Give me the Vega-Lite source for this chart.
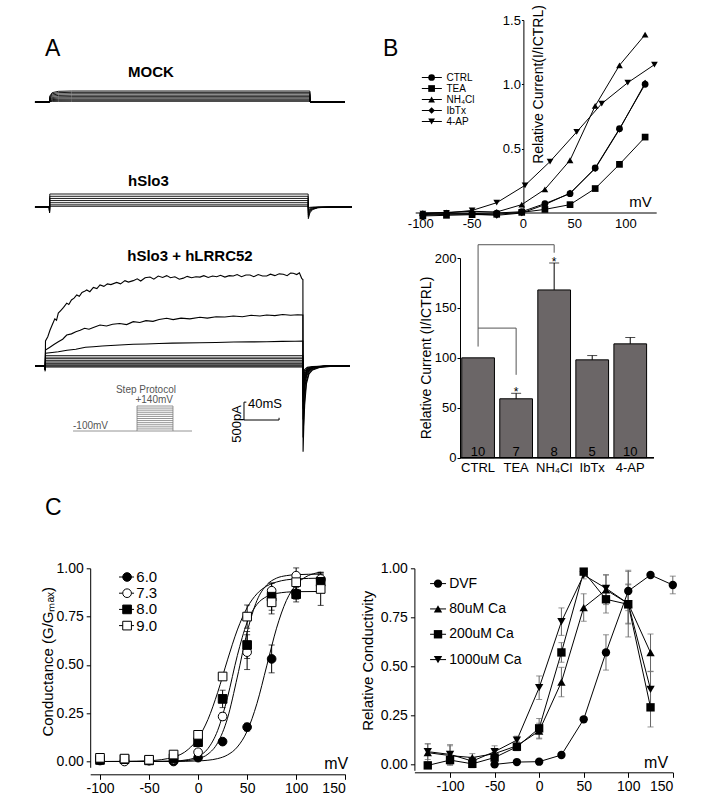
{
"$schema":"https://vega.github.io/schema/vega-lite/v6.json",
"background":"white",
"padding":0,
"config":{
 "font":"Liberation Sans",
 "view":{"stroke":null},
 "axis":{"domainColor":"black","tickColor":"black","labelColor":"black","titleColor":"black","grid":false,"titleFontWeight":"normal","labelFont":"Liberation Sans","titleFont":"Liberation Sans"},
 "title":{"color":"black","font":"Liberation Sans"},
 "text":{"color":"black","font":"Liberation Sans"}
},
"datasets":{
 "mock":[
  {"r":1,"t":-16.6,"i":0},{"r":1,"t":0,"i":0},{"r":1,"t":0.4,"i":169.4},{"r":1,"t":3,"i":261.8},{"r":1,"t":10,"i":298.8},{"r":1,"t":25,"i":308},{"r":1,"t":297,"i":308},{"r":1,"t":297.3,"i":0},{"r":1,"t":337,"i":0},
  {"r":2,"t":-16.6,"i":0},{"r":2,"t":0,"i":0},{"r":2,"t":0.4,"i":148.5},{"r":2,"t":3,"i":229.5},{"r":2,"t":10,"i":261.9},{"r":2,"t":25,"i":270},{"r":2,"t":297,"i":270},{"r":2,"t":297.3,"i":0},{"r":2,"t":337,"i":0},
  {"r":3,"t":-16.6,"i":0},{"r":3,"t":0,"i":0},{"r":3,"t":0.4,"i":126.5},{"r":3,"t":3,"i":195.5},{"r":3,"t":10,"i":223.1},{"r":3,"t":25,"i":230},{"r":3,"t":297,"i":230},{"r":3,"t":297.3,"i":0},{"r":3,"t":337,"i":0},
  {"r":4,"t":-16.6,"i":0},{"r":4,"t":0,"i":0},{"r":4,"t":0.4,"i":104.5},{"r":4,"t":3,"i":161.5},{"r":4,"t":10,"i":184.3},{"r":4,"t":25,"i":190},{"r":4,"t":297,"i":190},{"r":4,"t":297.3,"i":0},{"r":4,"t":337,"i":0},
  {"r":5,"t":-16.6,"i":0},{"r":5,"t":0,"i":0},{"r":5,"t":0.4,"i":82.5},{"r":5,"t":3,"i":127.5},{"r":5,"t":10,"i":145.5},{"r":5,"t":25,"i":150},{"r":5,"t":297,"i":150},{"r":5,"t":297.3,"i":0},{"r":5,"t":337,"i":0},
  {"r":6,"t":-16.6,"i":0},{"r":6,"t":0,"i":0},{"r":6,"t":0.4,"i":63.3},{"r":6,"t":3,"i":97.8},{"r":6,"t":10,"i":111.6},{"r":6,"t":25,"i":115},{"r":6,"t":297,"i":115},{"r":6,"t":297.3,"i":0},{"r":6,"t":337,"i":0},
  {"r":7,"t":-16.6,"i":0},{"r":7,"t":0,"i":0},{"r":7,"t":0.4,"i":44},{"r":7,"t":3,"i":68},{"r":7,"t":10,"i":77.6},{"r":7,"t":25,"i":80},{"r":7,"t":297,"i":80},{"r":7,"t":297.3,"i":0},{"r":7,"t":337,"i":0},
  {"r":8,"t":-16.6,"i":0},{"r":8,"t":0,"i":0},{"r":8,"t":0.4,"i":27.5},{"r":8,"t":3,"i":42.5},{"r":8,"t":10,"i":48.5},{"r":8,"t":25,"i":50},{"r":8,"t":297,"i":50},{"r":8,"t":297.3,"i":0},{"r":8,"t":337,"i":0},
  {"r":9,"t":-16.6,"i":0},{"r":9,"t":0,"i":0},{"r":9,"t":0.4,"i":11},{"r":9,"t":3,"i":17},{"r":9,"t":10,"i":19.4},{"r":9,"t":25,"i":20},{"r":9,"t":297,"i":20},{"r":9,"t":297.3,"i":0},{"r":9,"t":337,"i":0}
 ],
 "hslo":[
  {"r":1,"t":-16.6,"i":0},{"r":1,"t":-0.3,"i":0},{"r":1,"t":0,"i":-150},{"r":1,"t":0.3,"i":364},{"r":1,"t":295,"i":364},{"r":1,"t":295.2,"i":-327.6},{"r":1,"t":297,"i":-163.8},{"r":1,"t":300,"i":-72.8},{"r":1,"t":306,"i":-21.8},{"r":1,"t":320,"i":0},{"r":1,"t":345,"i":0},
  {"r":2,"t":-16.6,"i":0},{"r":2,"t":-0.3,"i":0},{"r":2,"t":0,"i":-150},{"r":2,"t":0.3,"i":300},{"r":2,"t":295,"i":300},{"r":2,"t":295.2,"i":-270},{"r":2,"t":297,"i":-135},{"r":2,"t":300,"i":-60},{"r":2,"t":306,"i":-18},{"r":2,"t":320,"i":0},{"r":2,"t":345,"i":0},
  {"r":3,"t":-16.6,"i":0},{"r":3,"t":-0.3,"i":0},{"r":3,"t":0,"i":-150},{"r":3,"t":0.3,"i":240},{"r":3,"t":295,"i":240},{"r":3,"t":295.2,"i":-216},{"r":3,"t":297,"i":-108},{"r":3,"t":300,"i":-48},{"r":3,"t":306,"i":-14.4},{"r":3,"t":320,"i":0},{"r":3,"t":345,"i":0},
  {"r":4,"t":-16.6,"i":0},{"r":4,"t":-0.3,"i":0},{"r":4,"t":0,"i":-150},{"r":4,"t":0.3,"i":180},{"r":4,"t":295,"i":180},{"r":4,"t":295.2,"i":-162},{"r":4,"t":297,"i":-81},{"r":4,"t":300,"i":-36},{"r":4,"t":306,"i":-10.8},{"r":4,"t":320,"i":0},{"r":4,"t":345,"i":0},
  {"r":5,"t":-16.6,"i":0},{"r":5,"t":-0.3,"i":0},{"r":5,"t":0,"i":-150},{"r":5,"t":0.3,"i":120},{"r":5,"t":295,"i":120},{"r":5,"t":295.2,"i":-108},{"r":5,"t":297,"i":-54},{"r":5,"t":300,"i":-24},{"r":5,"t":306,"i":-7.2},{"r":5,"t":320,"i":0},{"r":5,"t":345,"i":0},
  {"r":6,"t":-16.6,"i":0},{"r":6,"t":-0.3,"i":0},{"r":6,"t":0,"i":-150},{"r":6,"t":0.3,"i":60},{"r":6,"t":295,"i":60},{"r":6,"t":295.2,"i":-54},{"r":6,"t":297,"i":-27},{"r":6,"t":300,"i":-12},{"r":6,"t":306,"i":-3.6},{"r":6,"t":320,"i":0},{"r":6,"t":345,"i":0},
  {"r":7,"t":-16.6,"i":0},{"r":7,"t":-0.3,"i":0},{"r":7,"t":0,"i":-150},{"r":7,"t":0.3,"i":20},{"r":7,"t":295,"i":20},{"r":7,"t":295.2,"i":-18},{"r":7,"t":297,"i":-9},{"r":7,"t":300,"i":-4},{"r":7,"t":306,"i":-1.2},{"r":7,"t":320,"i":0},{"r":7,"t":345,"i":0}
 ],
 "lrrc":[
  {"r":1,"t":-16.6,"i":0},{"r":1,"t":-5.2,"i":0},{"r":1,"t":-5,"i":-150},{"r":1,"t":-4.6,"i":700},{"r":1,"t":-2,"i":820},{"r":1,"t":0.5,"i":1000},{"r":1,"t":3,"i":1150},{"r":1,"t":6,"i":1320},{"r":1,"t":8,"i":1280},{"r":1,"t":10,"i":1480},{"r":1,"t":13,"i":1560},{"r":1,"t":16,"i":1640},{"r":1,"t":19.6,"i":1760},{"r":1,"t":22,"i":1720},{"r":1,"t":25,"i":1850},{"r":1,"t":28,"i":1900},{"r":1,"t":31,"i":1990},{"r":1,"t":34,"i":1950},{"r":1,"t":37,"i":2060},{"r":1,"t":40,"i":2090},{"r":1,"t":42.4,"i":2130},{"r":1,"t":46,"i":2080},{"r":1,"t":50,"i":2200},{"r":1,"t":54,"i":2170},{"r":1,"t":57.6,"i":2270},{"r":1,"t":62,"i":2230},{"r":1,"t":66,"i":2300},{"r":1,"t":70,"i":2280},{"r":1,"t":76.6,"i":2340},{"r":1,"t":81,"i":2300},{"r":1,"t":86,"i":2390},{"r":1,"t":90,"i":2350},{"r":1,"t":95.5,"i":2390},{"r":1,"t":100,"i":2440},{"r":1,"t":104,"i":2380},{"r":1,"t":109,"i":2470},{"r":1,"t":114.6,"i":2490},{"r":1,"t":119,"i":2430},{"r":1,"t":124,"i":2520},{"r":1,"t":129,"i":2480},{"r":1,"t":133.6,"i":2530},{"r":1,"t":138,"i":2470},{"r":1,"t":143,"i":2500},{"r":1,"t":148,"i":2430},{"r":1,"t":152.6,"i":2460},{"r":1,"t":157,"i":2510},{"r":1,"t":162,"i":2470},{"r":1,"t":167,"i":2500},{"r":1,"t":171.6,"i":2490},{"r":1,"t":176,"i":2530},{"r":1,"t":181,"i":2480},{"r":1,"t":186,"i":2520},{"r":1,"t":190.7,"i":2500},{"r":1,"t":195,"i":2540},{"r":1,"t":200,"i":2490},{"r":1,"t":205,"i":2530},{"r":1,"t":209.6,"i":2520},{"r":1,"t":214,"i":2560},{"r":1,"t":219,"i":2500},{"r":1,"t":224,"i":2550},{"r":1,"t":228.7,"i":2550},{"r":1,"t":233,"i":2500},{"r":1,"t":238,"i":2560},{"r":1,"t":243,"i":2520},{"r":1,"t":247.7,"i":2520},{"r":1,"t":252,"i":2570},{"r":1,"t":257,"i":2530},{"r":1,"t":262,"i":2580},{"r":1,"t":266.6,"i":2570},{"r":1,"t":271,"i":2530},{"r":1,"t":275,"i":2600},{"r":1,"t":278,"i":2595},{"r":1,"t":282,"i":2560},{"r":1,"t":285,"i":2610},{"r":1,"t":287.6,"i":2455},{"r":1,"t":289,"i":2420},{"r":1,"t":289.2,"i":-2400},{"r":1,"t":290,"i":-1700},{"r":1,"t":291,"i":-1100},{"r":1,"t":293,"i":-500},{"r":1,"t":296,"i":-220},{"r":1,"t":300,"i":-110},{"r":1,"t":308,"i":-40},{"r":1,"t":320,"i":-10},{"r":1,"t":342.7,"i":0},
  {"r":2,"t":-16.6,"i":0},{"r":2,"t":-5.2,"i":0},{"r":2,"t":-5,"i":-120},{"r":2,"t":-4.6,"i":448},{"r":2,"t":0,"i":520},{"r":2,"t":5,"i":600},{"r":2,"t":10,"i":680},{"r":2,"t":15,"i":750},{"r":2,"t":19.6,"i":868},{"r":2,"t":25,"i":900},{"r":2,"t":30,"i":960},{"r":2,"t":35,"i":1000},{"r":2,"t":40,"i":1055},{"r":2,"t":45,"i":1030},{"r":2,"t":50,"i":1080},{"r":2,"t":57.6,"i":1148},{"r":2,"t":65,"i":1120},{"r":2,"t":72,"i":1170},{"r":2,"t":80,"i":1190},{"r":2,"t":88,"i":1160},{"r":2,"t":95.5,"i":1241},{"r":2,"t":103,"i":1220},{"r":2,"t":110,"i":1270},{"r":2,"t":118,"i":1250},{"r":2,"t":125,"i":1300},{"r":2,"t":133.6,"i":1335},{"r":2,"t":141,"i":1300},{"r":2,"t":150,"i":1340},{"r":2,"t":160,"i":1320},{"r":2,"t":171.6,"i":1363},{"r":2,"t":180,"i":1340},{"r":2,"t":190,"i":1380},{"r":2,"t":200,"i":1370},{"r":2,"t":209.6,"i":1400},{"r":2,"t":220,"i":1380},{"r":2,"t":230,"i":1420},{"r":2,"t":240,"i":1400},{"r":2,"t":247.7,"i":1428},{"r":2,"t":257,"i":1410},{"r":2,"t":266,"i":1440},{"r":2,"t":275,"i":1420},{"r":2,"t":283,"i":1435},{"r":2,"t":289,"i":1428},{"r":2,"t":289.2,"i":-2000},{"r":2,"t":290,"i":-1400},{"r":2,"t":291,"i":-900},{"r":2,"t":293,"i":-420},{"r":2,"t":296,"i":-180},{"r":2,"t":300,"i":-90},{"r":2,"t":308,"i":-30},{"r":2,"t":320,"i":-8},{"r":2,"t":342.7,"i":0},
  {"r":3,"t":-16.6,"i":0},{"r":3,"t":-5.2,"i":0},{"r":3,"t":-5,"i":-100},{"r":3,"t":-4.6,"i":355},{"r":3,"t":3,"i":380},{"r":3,"t":10,"i":401},{"r":3,"t":20,"i":440},{"r":3,"t":30,"i":470},{"r":3,"t":41,"i":523},{"r":3,"t":50,"i":540},{"r":3,"t":60,"i":560},{"r":3,"t":75,"i":580},{"r":3,"t":95.5,"i":607},{"r":3,"t":110,"i":615},{"r":3,"t":125,"i":630},{"r":3,"t":140,"i":640},{"r":3,"t":171.6,"i":653},{"r":3,"t":190,"i":660},{"r":3,"t":210,"i":670},{"r":3,"t":230,"i":675},{"r":3,"t":247.7,"i":681},{"r":3,"t":265,"i":690},{"r":3,"t":280,"i":695},{"r":3,"t":289,"i":700},{"r":3,"t":289.2,"i":-1500},{"r":3,"t":290,"i":-1000},{"r":3,"t":291,"i":-650},{"r":3,"t":293,"i":-300},{"r":3,"t":296,"i":-130},{"r":3,"t":300,"i":-60},{"r":3,"t":308,"i":-20},{"r":3,"t":320,"i":-5},{"r":3,"t":342.7,"i":0},
  {"r":4,"t":-16.6,"i":0},{"r":4,"t":-5.2,"i":0},{"r":4,"t":-5,"i":-100},{"r":4,"t":-4.6,"i":285},{"r":4,"t":289,"i":285},{"r":4,"t":289.2,"i":-1200},{"r":4,"t":291,"i":-480},{"r":4,"t":294,"i":-180},{"r":4,"t":300,"i":-60},{"r":4,"t":315,"i":0},{"r":4,"t":342.7,"i":0},
  {"r":5,"t":-16.6,"i":0},{"r":5,"t":-5.2,"i":0},{"r":5,"t":-5,"i":-100},{"r":5,"t":-4.6,"i":220},{"r":5,"t":289,"i":220},{"r":5,"t":289.2,"i":-1000},{"r":5,"t":291,"i":-400},{"r":5,"t":294,"i":-150},{"r":5,"t":300,"i":-50},{"r":5,"t":315,"i":0},{"r":5,"t":342.7,"i":0},
  {"r":6,"t":-16.6,"i":0},{"r":6,"t":-5.2,"i":0},{"r":6,"t":-5,"i":-100},{"r":6,"t":-4.6,"i":160},{"r":6,"t":289,"i":160},{"r":6,"t":289.2,"i":-850},{"r":6,"t":291,"i":-340},{"r":6,"t":294,"i":-127.5},{"r":6,"t":300,"i":-42.5},{"r":6,"t":315,"i":0},{"r":6,"t":342.7,"i":0},
  {"r":7,"t":-16.6,"i":0},{"r":7,"t":-5.2,"i":0},{"r":7,"t":-5,"i":-100},{"r":7,"t":-4.6,"i":110},{"r":7,"t":289,"i":110},{"r":7,"t":289.2,"i":-700},{"r":7,"t":291,"i":-280},{"r":7,"t":294,"i":-105},{"r":7,"t":300,"i":-35},{"r":7,"t":315,"i":0},{"r":7,"t":342.7,"i":0},
  {"r":8,"t":-16.6,"i":0},{"r":8,"t":-5.2,"i":0},{"r":8,"t":-5,"i":-100},{"r":8,"t":-4.6,"i":65},{"r":8,"t":289,"i":65},{"r":8,"t":289.2,"i":-550},{"r":8,"t":291,"i":-220},{"r":8,"t":294,"i":-82.5},{"r":8,"t":300,"i":-27.5},{"r":8,"t":315,"i":0},{"r":8,"t":342.7,"i":0},
  {"r":9,"t":-16.6,"i":0},{"r":9,"t":-5.2,"i":0},{"r":9,"t":-5,"i":-100},{"r":9,"t":-4.6,"i":25},{"r":9,"t":289,"i":25},{"r":9,"t":289.2,"i":-400},{"r":9,"t":291,"i":-160},{"r":9,"t":294,"i":-60},{"r":9,"t":300,"i":-20},{"r":9,"t":315,"i":0},{"r":9,"t":342.7,"i":0},
  {"r":10,"t":-16.6,"i":0},{"r":10,"t":-5.2,"i":0},{"r":10,"t":-5,"i":-100},{"r":10,"t":-4.6,"i":-25},{"r":10,"t":289,"i":-25},{"r":10,"t":289.2,"i":-250},{"r":10,"t":291,"i":-100},{"r":10,"t":294,"i":-37.5},{"r":10,"t":300,"i":-12.5},{"r":10,"t":315,"i":0},{"r":10,"t":342.7,"i":0}
 ],
 "sbar":[
  {"t1":221.8,"t2":221.8,"i1":-1512,"i2":-1012},
  {"t1":221.8,"t2":261.8,"i1":-1512,"i2":-1512},
  {"t1":221.8,"t2":224.5,"i1":-1012,"i2":-1012},
  {"t1":261.8,"t2":261.8,"i1":-1512,"i2":-1450}
 ],
 "sbl":[
  {"t":221.8,"i":-1012,"txt":"40mS"},
  {"t":221.8,"i":-1512,"txt":"500pA"}
 ],
 "proto":[
  {"t1":26.8,"t2":162.5,"v1":-100,"v2":-100},
  {"t1":99.8,"t2":99.8,"v1":-100,"v2":140},
  {"t1":140.8,"t2":140.8,"v1":-100,"v2":140},
  {"t1":99.8,"t2":140.8,"v1":-80,"v2":-80},
  {"t1":99.8,"t2":140.8,"v1":-60,"v2":-60},
  {"t1":99.8,"t2":140.8,"v1":-40,"v2":-40},
  {"t1":99.8,"t2":140.8,"v1":-20,"v2":-20},
  {"t1":99.8,"t2":140.8,"v1":0,"v2":0},
  {"t1":99.8,"t2":140.8,"v1":20,"v2":20},
  {"t1":99.8,"t2":140.8,"v1":40,"v2":40},
  {"t1":99.8,"t2":140.8,"v1":60,"v2":60},
  {"t1":99.8,"t2":140.8,"v1":80,"v2":80},
  {"t1":99.8,"t2":140.8,"v1":100,"v2":100},
  {"t1":99.8,"t2":140.8,"v1":120,"v2":120},
  {"t1":99.8,"t2":140.8,"v1":140,"v2":140}
 ],
 "plab":[
  {"t":26.8,"v":-100,"txt":"-100mV"},
  {"t":140.8,"v":140,"txt":"+140mV"},
  {"t":140.8,"v":140,"txt":"Step Protocol"}
 ],
 "iv":[
  {"s":"CTRL","v":-98,"r":-0.013},{"s":"CTRL","v":-75,"r":-0.005},{"s":"CTRL","v":-50,"r":-0.005},{"s":"CTRL","v":-26,"r":0},{"s":"CTRL","v":-1.6,"r":0.01},{"s":"CTRL","v":21,"r":0.073},{"s":"CTRL","v":45.5,"r":0.15},{"s":"CTRL","v":70,"r":0.35},{"s":"CTRL","v":93.7,"r":0.655},{"s":"CTRL","v":118.7,"r":1.0},
  {"s":"TEA","v":-98,"r":-0.023},{"s":"TEA","v":-75,"r":-0.018},{"s":"TEA","v":-50,"r":-0.013},{"s":"TEA","v":-26,"r":-0.01},{"s":"TEA","v":-1.6,"r":0.005},{"s":"TEA","v":21,"r":0.028},{"s":"TEA","v":45.5,"r":0.065},{"s":"TEA","v":70,"r":0.19},{"s":"TEA","v":93.7,"r":0.378},{"s":"TEA","v":118.7,"r":0.59},
  {"s":"NH4Cl","v":-98,"r":0},{"s":"NH4Cl","v":-75,"r":0.005},{"s":"NH4Cl","v":-50,"r":0.013},{"s":"NH4Cl","v":-26,"r":0.008},{"s":"NH4Cl","v":-1.6,"r":0.065},{"s":"NH4Cl","v":21,"r":0.184},{"s":"NH4Cl","v":45.5,"r":0.41},{"s":"NH4Cl","v":70,"r":0.832},{"s":"NH4Cl","v":93.7,"r":1.148},{"s":"NH4Cl","v":118.7,"r":1.386},
  {"s":"IbTx","v":-98,"r":-0.018},{"s":"IbTx","v":-75,"r":-0.01},{"s":"IbTx","v":-50,"r":-0.01},{"s":"IbTx","v":-26,"r":-0.018},{"s":"IbTx","v":-1.6,"r":0},{"s":"IbTx","v":21,"r":0.065},{"s":"IbTx","v":45.5,"r":0.155},{"s":"IbTx","v":70,"r":0.345},{"s":"IbTx","v":93.7,"r":0.65},{"s":"IbTx","v":118.7,"r":1.01},
  {"s":"4-AP","v":-98,"r":-0.005},{"s":"4-AP","v":-75,"r":0},{"s":"4-AP","v":-50,"r":0.02},{"s":"4-AP","v":-26,"r":0.08},{"s":"4-AP","v":1.6,"r":0.215},{"s":"4-AP","v":26,"r":0.4},{"s":"4-AP","v":52,"r":0.63},{"s":"4-AP","v":76.4,"r":0.85},{"s":"4-AP","v":101.8,"r":1.013},{"s":"4-AP","v":127.8,"r":1.153}
 ],
 "bticks":[
  {"v":-100,"lab":"-100"},{"v":-50,"lab":"-50"},{"v":0,"lab":"0"},{"v":50,"lab":"50"},{"v":100,"lab":"100"}
 ],
 "bars":[
  {"c":"CTRL","m":100,"n":"10"},
  {"c":"TEA","m":59,"hi":64.5,"n":"7","sig":"*"},
  {"c":"NH₄Cl","m":168,"hi":195,"n":"8","sig":"*"},
  {"c":"IbTx","m":98,"hi":102.3,"n":"5"},
  {"c":"4-AP","m":114,"hi":120.4,"n":"10"}
 ],
 "brk":[
  {"a":"CTRL","b":"CTRL","y1":111.3,"y2":213.3},
  {"a":"CTRL","b":"NH₄Cl","y1":213.3,"y2":213.3},
  {"a":"NH₄Cl","b":"NH₄Cl","y1":205.3,"y2":213.3},
  {"a":"CTRL","b":"TEA","y1":129.8,"y2":129.8},
  {"a":"TEA","b":"TEA","y1":83,"y2":129.8}
 ],
 "cp":[
  {"p":"6.0","v":-100,"m":0.005,"e":0},{"p":"6.0","v":-75,"m":0.005,"e":0},{"p":"6.0","v":-50,"m":0.005,"e":0},{"p":"6.0","v":-25,"m":0,"e":0},{"p":"6.0","v":0,"m":0.02,"e":0},{"p":"6.0","v":25,"m":0.103,"e":0.01},{"p":"6.0","v":50,"m":0.178,"e":0.02},{"p":"6.0","v":75,"m":0.531,"e":0.072},{"p":"6.0","v":100,"m":0.87,"e":0.03},{"p":"6.0","v":125,"m":0.94,"e":0.03},
  {"p":"7.3","v":-100,"m":0.017,"e":0.01},{"p":"7.3","v":-75,"m":0,"e":0},{"p":"7.3","v":-50,"m":0.005,"e":0},{"p":"7.3","v":-25,"m":0.01,"e":0},{"p":"7.3","v":0,"m":0.048,"e":0.01},{"p":"7.3","v":25,"m":0.233,"e":0.02},{"p":"7.3","v":50,"m":0.566,"e":0.09},{"p":"7.3","v":75,"m":0.884,"e":0.04},{"p":"7.3","v":100,"m":0.962,"e":0.04},{"p":"7.3","v":125,"m":0.945,"e":0.035},
  {"p":"8.0","v":-100,"m":0.008,"e":0},{"p":"8.0","v":-75,"m":0.012,"e":0},{"p":"8.0","v":-50,"m":0.006,"e":0},{"p":"8.0","v":-25,"m":0.017,"e":0},{"p":"8.0","v":0,"m":0.1,"e":0.01},{"p":"8.0","v":25,"m":0.324,"e":0.045},{"p":"8.0","v":50,"m":0.603,"e":0.07},{"p":"8.0","v":75,"m":0.853,"e":0.07},{"p":"8.0","v":100,"m":0.866,"e":0.04},{"p":"8.0","v":125,"m":0.93,"e":0.04},
  {"p":"9.0","v":-100,"m":0.019,"e":0.01},{"p":"9.0","v":-75,"m":0.015,"e":0},{"p":"9.0","v":-50,"m":0.009,"e":0},{"p":"9.0","v":-25,"m":0.036,"e":0.01},{"p":"9.0","v":0,"m":0.138,"e":0.015},{"p":"9.0","v":25,"m":0.44,"e":0.01},{"p":"9.0","v":50,"m":0.75,"e":0.06},{"p":"9.0","v":75,"m":0.824,"e":0.06},{"p":"9.0","v":100,"m":0.928,"e":0.04},{"p":"9.0","v":125,"m":0.893,"e":0.085}
 ],
 "cf":[
  {"p":"6.0","v":-100,"m":0},{"p":"6.0","v":-50,"m":0},{"p":"6.0","v":-25,"m":0.0004},{"p":"6.0","v":0,"m":0.003},{"p":"6.0","v":10,"m":0.0066},{"p":"6.0","v":20,"m":0.015},{"p":"6.0","v":30,"m":0.034},{"p":"6.0","v":40,"m":0.075},{"p":"6.0","v":50,"m":0.157},{"p":"6.0","v":60,"m":0.3},{"p":"6.0","v":70,"m":0.495},{"p":"6.0","v":80,"m":0.69},{"p":"6.0","v":90,"m":0.833},{"p":"6.0","v":100,"m":0.915},{"p":"6.0","v":110,"m":0.956},{"p":"6.0","v":120,"m":0.975},{"p":"6.0","v":125,"m":0.98},
  {"p":"7.3","v":-100,"m":0},{"p":"7.3","v":-50,"m":0.0002},{"p":"7.3","v":-25,"m":0.0012},{"p":"7.3","v":-10,"m":0.0053},{"p":"7.3","v":0,"m":0.0143},{"p":"7.3","v":10,"m":0.038},{"p":"7.3","v":20,"m":0.097},{"p":"7.3","v":30,"m":0.224},{"p":"7.3","v":40,"m":0.437},{"p":"7.3","v":50,"m":0.669},{"p":"7.3","v":60,"m":0.833},{"p":"7.3","v":70,"m":0.914},{"p":"7.3","v":80,"m":0.949},{"p":"7.3","v":90,"m":0.962},{"p":"7.3","v":100,"m":0.967},{"p":"7.3","v":125,"m":0.97},
  {"p":"8.0","v":-100,"m":0},{"p":"8.0","v":-50,"m":0.0002},{"p":"8.0","v":-25,"m":0.0022},{"p":"8.0","v":-10,"m":0.0098},{"p":"8.0","v":0,"m":0.0259},{"p":"8.0","v":10,"m":0.0667},{"p":"8.0","v":20,"m":0.161},{"p":"8.0","v":30,"m":0.332},{"p":"8.0","v":40,"m":0.548},{"p":"8.0","v":50,"m":0.72},{"p":"8.0","v":60,"m":0.813},{"p":"8.0","v":70,"m":0.854},{"p":"8.0","v":80,"m":0.87},{"p":"8.0","v":100,"m":0.879},{"p":"8.0","v":125,"m":0.88},
  {"p":"9.0","v":-100,"m":0.0001},{"p":"9.0","v":-75,"m":0.0007},{"p":"9.0","v":-50,"m":0.0039},{"p":"9.0","v":-25,"m":0.0227},{"p":"9.0","v":-10,"m":0.063},{"p":"9.0","v":0,"m":0.12},{"p":"9.0","v":10,"m":0.217},{"p":"9.0","v":20,"m":0.358},{"p":"9.0","v":30,"m":0.526},{"p":"9.0","v":40,"m":0.681},{"p":"9.0","v":50,"m":0.796},{"p":"9.0","v":60,"m":0.868},{"p":"9.0","v":70,"m":0.908},{"p":"9.0","v":80,"m":0.929},{"p":"9.0","v":100,"m":0.945},{"p":"9.0","v":125,"m":0.949}
 ],
 "cr":[
  {"s":"DVF","v":-50,"m":0,"e":0},{"s":"DVF","v":-25,"m":0.012,"e":0},{"s":"DVF","v":0,"m":0.014,"e":0},{"s":"DVF","v":25,"m":0.048,"e":0.01},{"s":"DVF","v":50,"m":0.23,"e":0},{"s":"DVF","v":75,"m":0.571,"e":0.09},{"s":"DVF","v":100,"m":0.884,"e":0.1},{"s":"DVF","v":125,"m":0.966,"e":0.01},{"s":"DVF","v":150,"m":0.915,"e":0.045},
  {"s":"80uM Ca","v":-125,"m":0.06,"e":0.045},{"s":"80uM Ca","v":-100,"m":0.045,"e":0.05},{"s":"80uM Ca","v":-75,"m":0.035,"e":0.02},{"s":"80uM Ca","v":-50,"m":0.055,"e":0.02},{"s":"80uM Ca","v":-25,"m":0.095,"e":0.02},{"s":"80uM Ca","v":0,"m":0.17,"e":0.04},{"s":"80uM Ca","v":25,"m":0.42,"e":0.075},{"s":"80uM Ca","v":50,"m":0.8,"e":0.07},{"s":"80uM Ca","v":75,"m":0.89,"e":0.075},{"s":"80uM Ca","v":100,"m":0.82,"e":0.1},{"s":"80uM Ca","v":125,"m":0.57,"e":0.095},
  {"s":"200uM Ca","v":-125,"m":-0.005,"e":0},{"s":"200uM Ca","v":-100,"m":0.022,"e":0.02},{"s":"200uM Ca","v":-75,"m":0.003,"e":0.02},{"s":"200uM Ca","v":-50,"m":0.035,"e":0.02},{"s":"200uM Ca","v":-25,"m":0.09,"e":0.02},{"s":"200uM Ca","v":0,"m":0.184,"e":0.05},{"s":"200uM Ca","v":25,"m":0.571,"e":0.05},{"s":"200uM Ca","v":50,"m":0.983,"e":0.01},{"s":"200uM Ca","v":75,"m":0.842,"e":0.07},{"s":"200uM Ca","v":100,"m":0.816,"e":0.1},{"s":"200uM Ca","v":125,"m":0.291,"e":0.1},
  {"s":"1000uM Ca","v":-125,"m":0.065,"e":0.04},{"s":"1000uM Ca","v":-100,"m":0.051,"e":0.05},{"s":"1000uM Ca","v":-75,"m":0.017,"e":0.02},{"s":"1000uM Ca","v":-50,"m":0.065,"e":0.03},{"s":"1000uM Ca","v":-25,"m":0.124,"e":0.02},{"s":"1000uM Ca","v":0,"m":0.391,"e":0.06},{"s":"1000uM Ca","v":25,"m":0.728,"e":0.07},{"s":"1000uM Ca","v":50,"m":0.966,"e":0.02},{"s":"1000uM Ca","v":75,"m":0.898,"e":0.07},{"s":"1000uM Ca","v":100,"m":0.82,"e":0.17},{"s":"1000uM Ca","v":125,"m":0.383,"e":0.09}
 ]
},
"concat":[
 {"width":352,"height":455,
  "title":{"text":"A","anchor":"start","frame":"group","dx":45,"offset":-79,"baseline":"alphabetic","fontSize":23,"fontWeight":"normal"},
  "layer":[
   {"layer":[
    {"data":{"name":"mock"},"mark":{"type":"line","color":"black","strokeWidth":0.9},
     "encoding":{"x":{"field":"t","type":"quantitative","scale":{"domain":[-20,345],"range":[32,352],"nice":false,"zero":false},"axis":null},
      "y":{"field":"i","type":"quantitative","scale":{"domain":[-224,476],"range":[110,85],"nice":false,"zero":false},"axis":null},
      "detail":{"field":"r","type":"nominal"}}},
    {"data":{"values":[{"lab":"MOCK"}]},"mark":{"type":"text","align":"left","baseline":"alphabetic","fontSize":15,"fontWeight":"bold"},
     "encoding":{"x":{"datum":89.5,"axis":null},"y":{"datum":714,"axis":null},"text":{"field":"lab"}}}
   ]},
   {"layer":[
    {"data":{"name":"hslo"},"mark":{"type":"line","color":"black","strokeWidth":0.9},
     "encoding":{"x":{"field":"t","type":"quantitative","scale":{"domain":[-20,345],"range":[32,352],"nice":false,"zero":false},"axis":null},
      "y":{"field":"i","type":"quantitative","scale":{"domain":[-504,532],"range":[225,188],"nice":false,"zero":false},"axis":null},
      "detail":{"field":"r","type":"nominal"}}},
    {"data":{"values":[{"lab":"hSlo3"}]},"mark":{"type":"text","align":"left","baseline":"alphabetic","fontSize":15,"fontWeight":"bold"},
     "encoding":{"x":{"datum":89.5,"axis":null},"y":{"datum":588,"axis":null},"text":{"field":"lab"}}}
   ]},
   {"layer":[
    {"data":{"name":"lrrc"},"mark":{"type":"line","color":"black","strokeWidth":1.1},
     "encoding":{"x":{"field":"t","type":"quantitative","scale":{"domain":[-20,345],"range":[32,352],"nice":false,"zero":false},"axis":null},
      "y":{"field":"i","type":"quantitative","scale":{"domain":[-2492,2828],"range":[455,265],"nice":false,"zero":false},"axis":null},
      "detail":{"field":"r","type":"nominal"}}},
    {"data":{"name":"sbar"},"mark":{"type":"rule","color":"black","strokeWidth":1},
     "encoding":{"x":{"field":"t1","type":"quantitative","axis":null},"x2":{"field":"t2"},
      "y":{"field":"i1","type":"quantitative","axis":null},"y2":{"field":"i2"}}},
    {"data":{"name":"sbl"},"transform":[{"filter":"datum.txt == '40mS'"}],
     "mark":{"type":"text","align":"left","baseline":"middle","dx":4,"dy":2,"fontSize":13},
     "encoding":{"x":{"field":"t","type":"quantitative","axis":null},"y":{"field":"i","type":"quantitative","axis":null},"text":{"field":"txt"}}},
    {"data":{"name":"sbl"},"transform":[{"filter":"datum.txt == '500pA'"}],
     "mark":{"type":"text","align":"center","baseline":"bottom","angle":270,"dx":-4,"fontSize":13},
     "encoding":{"x":{"field":"t","type":"quantitative","axis":null},"y":{"field":"i","type":"quantitative","axis":null},"text":{"field":"txt"}}},
    {"data":{"values":[{"lab":"hSlo3 + hLRRC52"}]},"mark":{"type":"text","align":"center","baseline":"alphabetic","fontSize":15,"fontWeight":"bold"},
     "encoding":{"x":{"datum":160.2,"axis":null},"y":{"datum":2954,"axis":null},"text":{"field":"lab"}}}
   ]},
   {"layer":[
    {"data":{"name":"proto"},"mark":{"type":"rule","color":"#7a7a7a","strokeWidth":0.8},
     "encoding":{"x":{"field":"t1","type":"quantitative","axis":null},"x2":{"field":"t2"},
      "y":{"field":"v1","type":"quantitative","scale":{"domain":[-330.4,1493.6],"range":[455,265],"nice":false,"zero":false},"axis":null},"y2":{"field":"v2"}}},
    {"data":{"name":"plab"},"transform":[{"filter":"datum.txt == '-100mV'"}],
     "mark":{"type":"text","align":"left","baseline":"alphabetic","dy":-2,"fontSize":10,"color":"#555555"},
     "encoding":{"x":{"field":"t","type":"quantitative","axis":null},"y":{"field":"v","type":"quantitative","axis":null},"text":{"field":"txt"}}},
    {"data":{"name":"plab"},"transform":[{"filter":"datum.txt == '+140mV'"}],
     "mark":{"type":"text","align":"right","baseline":"alphabetic","dy":-3,"fontSize":10,"color":"#555555"},
     "encoding":{"x":{"field":"t","type":"quantitative","axis":null},"y":{"field":"v","type":"quantitative","axis":null},"text":{"field":"txt"}}},
    {"data":{"name":"plab"},"transform":[{"filter":"datum.txt == 'Step Protocol'"}],
     "mark":{"type":"text","align":"right","baseline":"alphabetic","dx":3,"dy":-13,"fontSize":10,"color":"#555555"},
     "encoding":{"x":{"field":"t","type":"quantitative","axis":null},"y":{"field":"v","type":"quantitative","axis":null},"text":{"field":"txt"}}}
   ]}
  ],
  "resolve":{"scale":{"y":"independent"}}},
 {"width":256.7,"height":457.7,
  "title":{"text":"B","anchor":"start","frame":"group","dx":-17,"offset":-79,"baseline":"alphabetic","fontSize":23,"fontWeight":"normal"},
  "layer":[
   {"layer":[
     {"layer":[
      {"data":{"name":"iv"},"mark":{"type":"line","color":"black","strokeWidth":1},
       "encoding":{"x":{"field":"v","type":"quantitative","scale":{"domain":[-105,130],"range":[15.7,256.7],"nice":false,"zero":false},"axis":null},
        "y":{"field":"r","type":"quantitative","scale":{"domain":[0,1.5],"range":[213,20],"nice":false,"zero":false},"axis":{"orient":"left","offset":-123.4,"values":[0.5,1,1.5],"format":".1f","tickSize":2,"labelPadding":1,"labelFontSize":13,"title":"Relative Current(I/ICTRL)","titleFontSize":14,"titleX":8,"titleY":84,"titleAngle":270,"titleAlign":"center","titleBaseline":"top"}},
        "detail":{"field":"s","type":"nominal"}}},
      {"data":{"name":"iv"},"mark":{"type":"point","filled":true,"color":"black","size":45,"opacity":1},
       "encoding":{"x":{"field":"v","type":"quantitative","axis":null},"y":{"field":"r","type":"quantitative","title":"Relative Current(I/ICTRL)"},
        "shape":{"field":"s","type":"nominal","scale":{"domain":["CTRL","TEA","NH4Cl","IbTx","4-AP"],"range":["circle","square","triangle-up","diamond","triangle-down"]},"legend":null}}},
      {"data":{"values":[{"lab":"mV"}]},"mark":{"type":"rule","color":"black","strokeWidth":1},
       "encoding":{"x":{"datum":-105,"axis":null},"x2":{"datum":130},"y":{"datum":0}}},
      {"data":{"name":"bticks"},"mark":{"type":"text","baseline":"top","dy":5,"fontSize":13},
       "encoding":{"x":{"field":"v","type":"quantitative","axis":null},"y":{"datum":0},"text":{"field":"lab"}}},
      {"data":{"values":[{"lab":"mV"}]},"mark":{"type":"text","align":"center","baseline":"alphabetic","fontSize":15},
       "encoding":{"x":{"datum":114.2,"axis":null},"y":{"datum":0.049},"text":{"field":"lab"}}}
     ]},
     {"data":{"values":[{"s":"CTRL","lab":"CTRL","o":0},{"s":"TEA","lab":"TEA","o":1},{"s":"NH4Cl","lab":"NH₄Cl","o":2},{"s":"IbTx","lab":"IbTx","o":3},{"s":"4-AP","lab":"4-AP","o":4}]},
      "encoding":{"y":{"field":"o","type":"quantitative","scale":{"domain":[0,4],"range":[77.5,121.5],"nice":false,"zero":false},"axis":null}},
      "layer":[
       {"mark":{"type":"rule","color":"black","strokeWidth":1},"encoding":{"x":{"datum":-99,"axis":null},"x2":{"datum":-79.5}}},
       {"mark":{"type":"point","filled":true,"color":"black","size":45,"opacity":1},"encoding":{"x":{"datum":-89.5,"axis":null},"shape":{"field":"s","type":"nominal","scale":{"domain":["CTRL","TEA","NH4Cl","IbTx","4-AP"],"range":["circle","square","triangle-up","diamond","triangle-down"]},"legend":null}}},
       {"mark":{"type":"text","align":"left","baseline":"middle","fontSize":10},"encoding":{"x":{"datum":-75,"axis":null},"text":{"field":"lab"}}}
      ]}
    ],
    "resolve":{"scale":{"y":"independent"}}},
   {"layer":[
     {"data":{"name":"bars"},"layer":[
      {"mark":{"type":"bar","fill":"#6b6667","stroke":"black","strokeWidth":1},
       "encoding":{"x":{"field":"c","type":"nominal","sort":null,"scale":{"domain":["CTRL","TEA","NH₄Cl","IbTx","4-AP"],"range":[60,254],"paddingInner":0.14,"paddingOuter":0.12,"align":0.19},"axis":null},
        "y":{"field":"m","type":"quantitative","scale":{"domain":[0,200],"range":[457.7,258],"nice":false,"zero":false},"axis":{"orient":"left","offset":-60,"values":[0,50,100,150,200],"tickSize":3,"labelPadding":1,"labelFontSize":13,"title":"Relative Current (I/ICTRL)","titleFontSize":14,"titleX":-41,"titleY":357.5,"titleAngle":270,"titleAlign":"center","titleBaseline":"top"}}}},
      {"transform":[{"filter":"isValid(datum.hi)"}],"mark":{"type":"rule","color":"black","strokeWidth":1},
       "encoding":{"x":{"field":"c","type":"nominal","sort":null},"y":{"field":"m","type":"quantitative"},"y2":{"field":"hi"}}},
      {"transform":[{"filter":"isValid(datum.hi)"}],"mark":{"type":"tick","color":"black","size":10,"thickness":1},
       "encoding":{"x":{"field":"c","type":"nominal","sort":null},"y":{"field":"hi","type":"quantitative"}}},
      {"transform":[{"filter":"isValid(datum.sig)"}],"mark":{"type":"text","baseline":"alphabetic","dy":3,"fontSize":12},
       "encoding":{"x":{"field":"c","type":"nominal","sort":null},"y":{"field":"hi","type":"quantitative"},"text":{"field":"sig"}}},
      {"mark":{"type":"text","baseline":"alphabetic","dy":-2,"fontSize":13},
       "encoding":{"x":{"field":"c","type":"nominal","sort":null},"y":{"datum":0},"text":{"field":"n"}}},
      {"mark":{"type":"text","baseline":"top","dy":4,"fontSize":13},
       "encoding":{"x":{"field":"c","type":"nominal","sort":null},"y":{"datum":0},"text":{"field":"c"}}},
      {"mark":{"type":"rule","color":"black","strokeWidth":1,"xOffset":-1.7,"x2Offset":7.3},
       "encoding":{"x":{"datum":"CTRL","bandPosition":0},"x2":{"datum":"4-AP","bandPosition":1},"y":{"datum":0}}}
     ]},
     {"data":{"name":"brk"},"mark":{"type":"rule","color":"#555555","strokeWidth":1},
      "encoding":{"x":{"field":"a","type":"nominal","sort":null},"x2":{"field":"b"},"y":{"field":"y1","type":"quantitative"},"y2":{"field":"y2"}}}
   ]}
  ],
  "resolve":{"scale":{"x":"independent","y":"independent"}}},
 {"width":345.2,"height":247,
  "title":{"text":"C","anchor":"start","frame":"group","dx":45,"offset":-18,"baseline":"alphabetic","fontSize":23,"fontWeight":"normal"},
  "layer":[
   {"layer":[
    {"data":{"name":"cf"},"mark":{"type":"line","color":"black","strokeWidth":1,"interpolate":"monotone"},
     "encoding":{"x":{"field":"v","type":"quantitative","scale":{"domain":[-110,150],"range":[90.2,345.2],"nice":false,"zero":false},"axis":{"orient":"bottom","offset":7,"values":[-100,-50,0,50,100,150],"labelExpr":"replace(datum.label,'−','-')","tickSize":5,"labelPadding":2,"labelFontSize":14,"title":null}},
      "y":{"field":"m","type":"quantitative","scale":{"domain":[-0.03,1],"range":[247,48],"nice":false,"zero":false},"axis":{"orient":"left","offset":-90.2,"values":[0,0.25,0.5,0.75,1],"format":".2f","tickSize":4,"labelPadding":3,"labelFontSize":14,"title":"Conductance (G/Gₘₐₓ)","titleFontSize":15,"titleX":-50,"titleY":141,"titleAngle":270,"titleAlign":"center","titleBaseline":"top"}},
      "detail":{"field":"p","type":"nominal"}}},
    {"data":{"name":"cp"},"mark":{"type":"errorbar","ticks":true,"size":6,"thickness":1,"color":"black"},
     "encoding":{"x":{"field":"v","type":"quantitative","title":null},"y":{"field":"m","type":"quantitative","title":"Conductance (G/Gₘₐₓ)"},"yError":{"field":"e"}}},
    {"data":{"name":"cp"},"mark":{"type":"point","filled":true,"stroke":"black","strokeWidth":1,"size":75,"opacity":1},
     "encoding":{"x":{"field":"v","type":"quantitative","title":null},"y":{"field":"m","type":"quantitative","title":"Conductance (G/Gₘₐₓ)"},
      "shape":{"field":"p","type":"nominal","scale":{"domain":["6.0","7.3","8.0","9.0"],"range":["circle","circle","square","square"]},"legend":null},
      "fill":{"field":"p","type":"nominal","scale":{"domain":["6.0","7.3","8.0","9.0"],"range":["black","white","black","white"]},"legend":null}}},
    {"data":{"values":[{"lab":"mV"}]},"mark":{"type":"text","align":"center","baseline":"alphabetic","fontSize":16},
     "encoding":{"x":{"datum":140.8},"y":{"datum":-0.04},"text":{"field":"lab"}}}
   ]},
   {"data":{"values":[{"p":"6.0","o":0},{"p":"7.3","o":1},{"p":"8.0","o":2},{"p":"9.0","o":3}]},
    "encoding":{"y":{"field":"o","type":"quantitative","scale":{"domain":[0,3],"range":[56.7,105.3],"nice":false,"zero":false},"axis":null}},
    "layer":[
     {"mark":{"type":"rule","color":"black","strokeWidth":1},"encoding":{"x":{"datum":-80.6},"x2":{"datum":-65.3}}},
     {"mark":{"type":"point","filled":true,"stroke":"black","strokeWidth":1,"size":75,"opacity":1},"encoding":{"x":{"datum":-72.4},
      "shape":{"field":"p","type":"nominal","scale":{"domain":["6.0","7.3","8.0","9.0"],"range":["circle","circle","square","square"]},"legend":null},
      "fill":{"field":"p","type":"nominal","scale":{"domain":["6.0","7.3","8.0","9.0"],"range":["black","white","black","white"]},"legend":null}}},
     {"mark":{"type":"text","align":"left","baseline":"middle","fontSize":15},"encoding":{"x":{"datum":-63},"text":{"field":"p"}}}
    ]}
  ],
  "resolve":{"scale":{"y":"independent"}}},
 {"width":272.8,"height":250,
  "layer":[
   {"layer":[
    {"data":{"name":"cr"},"mark":{"type":"line","color":"black","strokeWidth":1},
     "encoding":{"x":{"field":"v","type":"quantitative","scale":{"domain":[-140,150],"range":[14.4,272.8],"nice":false,"zero":false},"axis":{"orient":"bottom","offset":2,"values":[-100,-50,0,50,100,150],"labelExpr":"replace(datum.label,'−','-')","tickSize":5,"labelPadding":2,"labelFontSize":14,"title":null}},
      "y":{"field":"m","type":"quantitative","scale":{"domain":[-0.03,1],"range":[250,48],"nice":false,"zero":false},"axis":{"orient":"left","offset":-14.4,"values":[0,0.25,0.5,0.75,1],"format":".2f","tickSize":4,"labelPadding":3,"labelFontSize":14,"title":"Relative Conductivity","titleFontSize":15,"titleX":-54,"titleY":140,"titleAngle":270,"titleAlign":"center","titleBaseline":"top"}},
      "detail":{"field":"s","type":"nominal"}}},
    {"data":{"name":"cr"},"mark":{"type":"errorbar","ticks":true,"size":6,"thickness":1,"color":"#666666"},
     "encoding":{"x":{"field":"v","type":"quantitative","title":null},"y":{"field":"m","type":"quantitative","title":"Relative Conductivity"},"yError":{"field":"e"}}},
    {"data":{"name":"cr"},"mark":{"type":"point","filled":true,"color":"black","size":70,"opacity":1},
     "encoding":{"x":{"field":"v","type":"quantitative","title":null},"y":{"field":"m","type":"quantitative","title":"Relative Conductivity"},
      "shape":{"field":"s","type":"nominal","scale":{"domain":["DVF","80uM Ca","200uM Ca","1000uM Ca"],"range":["circle","triangle-up","square","triangle-down"]},"legend":null}}},
    {"data":{"values":[{"lab":"mV"}]},"mark":{"type":"text","align":"center","baseline":"alphabetic","fontSize":16},
     "encoding":{"x":{"datum":131.2},"y":{"datum":-0.02},"text":{"field":"lab"}}}
   ]},
   {"data":{"values":[{"s":"DVF","o":0},{"s":"80uM Ca","o":1},{"s":"200uM Ca","o":2},{"s":"1000uM Ca","o":3}]},
    "encoding":{"y":{"field":"o","type":"quantitative","scale":{"domain":[0,3],"range":[63.3,139.3],"nice":false,"zero":false},"axis":null}},
    "layer":[
     {"mark":{"type":"rule","color":"black","strokeWidth":1},"encoding":{"x":{"datum":-122.4},"x2":{"datum":-104.5}}},
     {"mark":{"type":"point","filled":true,"color":"black","size":70,"opacity":1},"encoding":{"x":{"datum":-113.5},
      "shape":{"field":"s","type":"nominal","scale":{"domain":["DVF","80uM Ca","200uM Ca","1000uM Ca"],"range":["circle","triangle-up","square","triangle-down"]},"legend":null}}},
     {"mark":{"type":"text","align":"left","baseline":"middle","fontSize":14},"encoding":{"x":{"datum":-101},"text":{"field":"s"}}}
    ]}
  ],
  "resolve":{"scale":{"y":"independent"}}}
],
"columns":2,
"spacing":{"row":62.3,"column":48},
"bounds":"flush",
"resolve":{"scale":{"shape":"independent","fill":"independent"}}
}
